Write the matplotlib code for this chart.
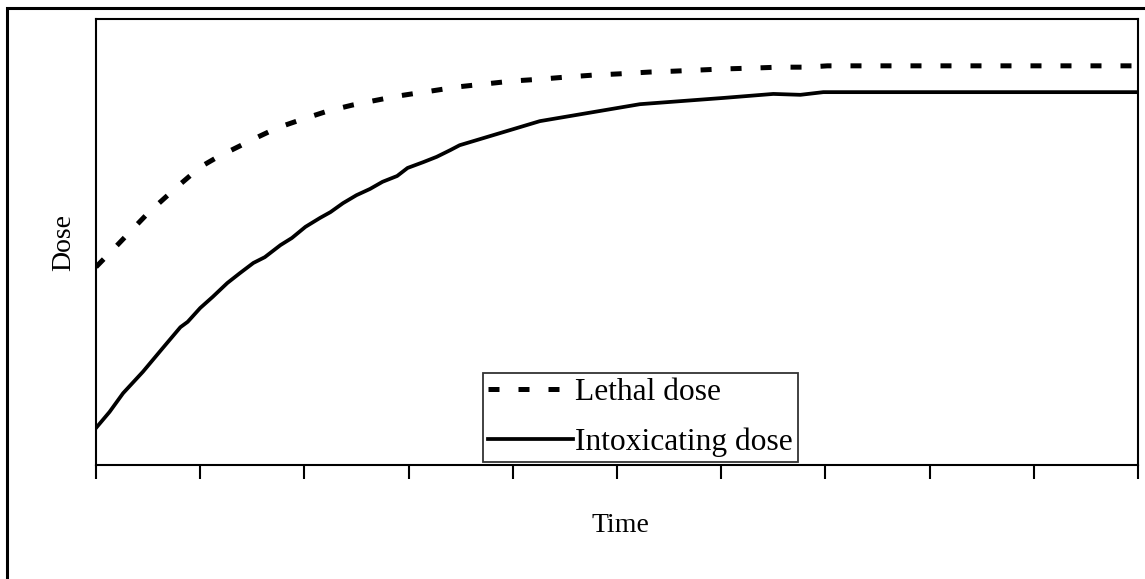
import matplotlib
matplotlib.use("Agg")
import matplotlib.pyplot as plt
from matplotlib.patches import Rectangle

plt.rcParams['font.family'] = ['Liberation Serif', 'DejaVu Serif']

# Data (time in arbitrary units, dose in arbitrary units 0-100)
lethal_time = [0.00, 0.18, 0.36, 0.50, 0.68, 0.82, 1.00, 1.17, 1.36, 1.55, 1.74, 1.99,
               2.23, 2.46, 2.65, 2.89, 3.03, 3.23, 3.48, 3.72, 4.00, 4.26, 4.52, 4.76,
               5.02, 5.31, 5.54, 5.83, 6.02, 6.31, 6.55, 6.82, 7.02, 10.0]
lethal_dose = [44.4, 48.7, 53.1, 56.5, 60.3, 63.2, 66.8, 69.1, 71.3, 73.5, 75.6, 77.6,
               79.4, 80.7, 81.6, 82.7, 83.2, 83.9, 84.8, 85.4, 86.1, 86.5, 87.0, 87.4,
               87.7, 88.1, 88.3, 88.6, 88.8, 89.0, 89.2, 89.2, 89.5, 89.5]

intox_time = [0.00, 0.13, 0.26, 0.45, 0.64, 0.81, 0.88, 1.00, 1.12, 1.26, 1.38, 1.51,
              1.62, 1.77, 1.88, 2.01, 2.15, 2.25, 2.37, 2.50, 2.63, 2.75, 2.89, 2.99,
              3.14, 3.27, 3.40, 3.49, 4.26, 5.22, 6.02, 6.50, 6.76, 6.98, 10.0]
intox_dose = [8.3, 11.9, 16.1, 20.9, 26.2, 30.9, 32.1, 35.2, 37.7, 40.8, 43.0, 45.3,
              46.6, 49.3, 50.9, 53.4, 55.4, 56.7, 58.7, 60.5, 61.9, 63.5, 64.8, 66.6,
              67.9, 69.1, 70.6, 71.7, 77.1, 80.9, 82.3, 83.2, 83.0, 83.6, 83.6]

x_ticks = list(range(0, 11))
series_labels = ["Lethal dose", "Intoxicating dose"]
x_label = "Time"
y_label = "Dose"

W, H = 1145, 579
fig = plt.figure(figsize=(W / 100, H / 100), dpi=100)
ax = fig.add_axes([96 / W, (H - 465) / H, (1138 - 96) / W, (465 - 19) / H])

ax.plot(lethal_time, lethal_dose, color='black', lw=3.6, linestyle=(0, (2.2, 3.8)),
        dash_capstyle='butt', label=series_labels[0])
ax.plot(intox_time, intox_dose, color='black', lw=2.7, label=series_labels[1])

ax.set_xlim(0, 10)
ax.set_ylim(0, 100)
ax.set_xticks(x_ticks)
ax.set_xticklabels([])
ax.tick_params(axis='x', direction='out', length=10, width=1.5, color='black')
ax.set_yticks([])
for s in ax.spines.values():
    s.set_linewidth(1.5)
    s.set_color('black')

fig.text(620 / W, 1 - 525 / H, x_label, ha='center', va='center', fontsize=20)
fig.text(64 / W, 1 - 243 / H, y_label, ha='center', va='center', rotation=90, fontsize=20)

leg = ax.legend(loc='lower left', bbox_to_anchor=(483 / W, (H - 462) / H),
                bbox_transform=fig.transFigure, fontsize=22.7, frameon=True,
                fancybox=False, shadow=False, handlelength=2.7, handletextpad=0.05,
                borderpad=0.16, labelspacing=0.65, borderaxespad=0)
leg.get_frame().set_edgecolor('black')
leg.get_frame().set_linewidth(1.3)

# Outer chart frame (partly cropped at right and bottom)
fig.patches.append(Rectangle((7 / W, -0.2), 1.5, 1.2 - 8 / H, transform=fig.transFigure,
                             fill=False, edgecolor='black', linewidth=2.2, clip_on=False))

fig.savefig("out.png", dpi=100)
